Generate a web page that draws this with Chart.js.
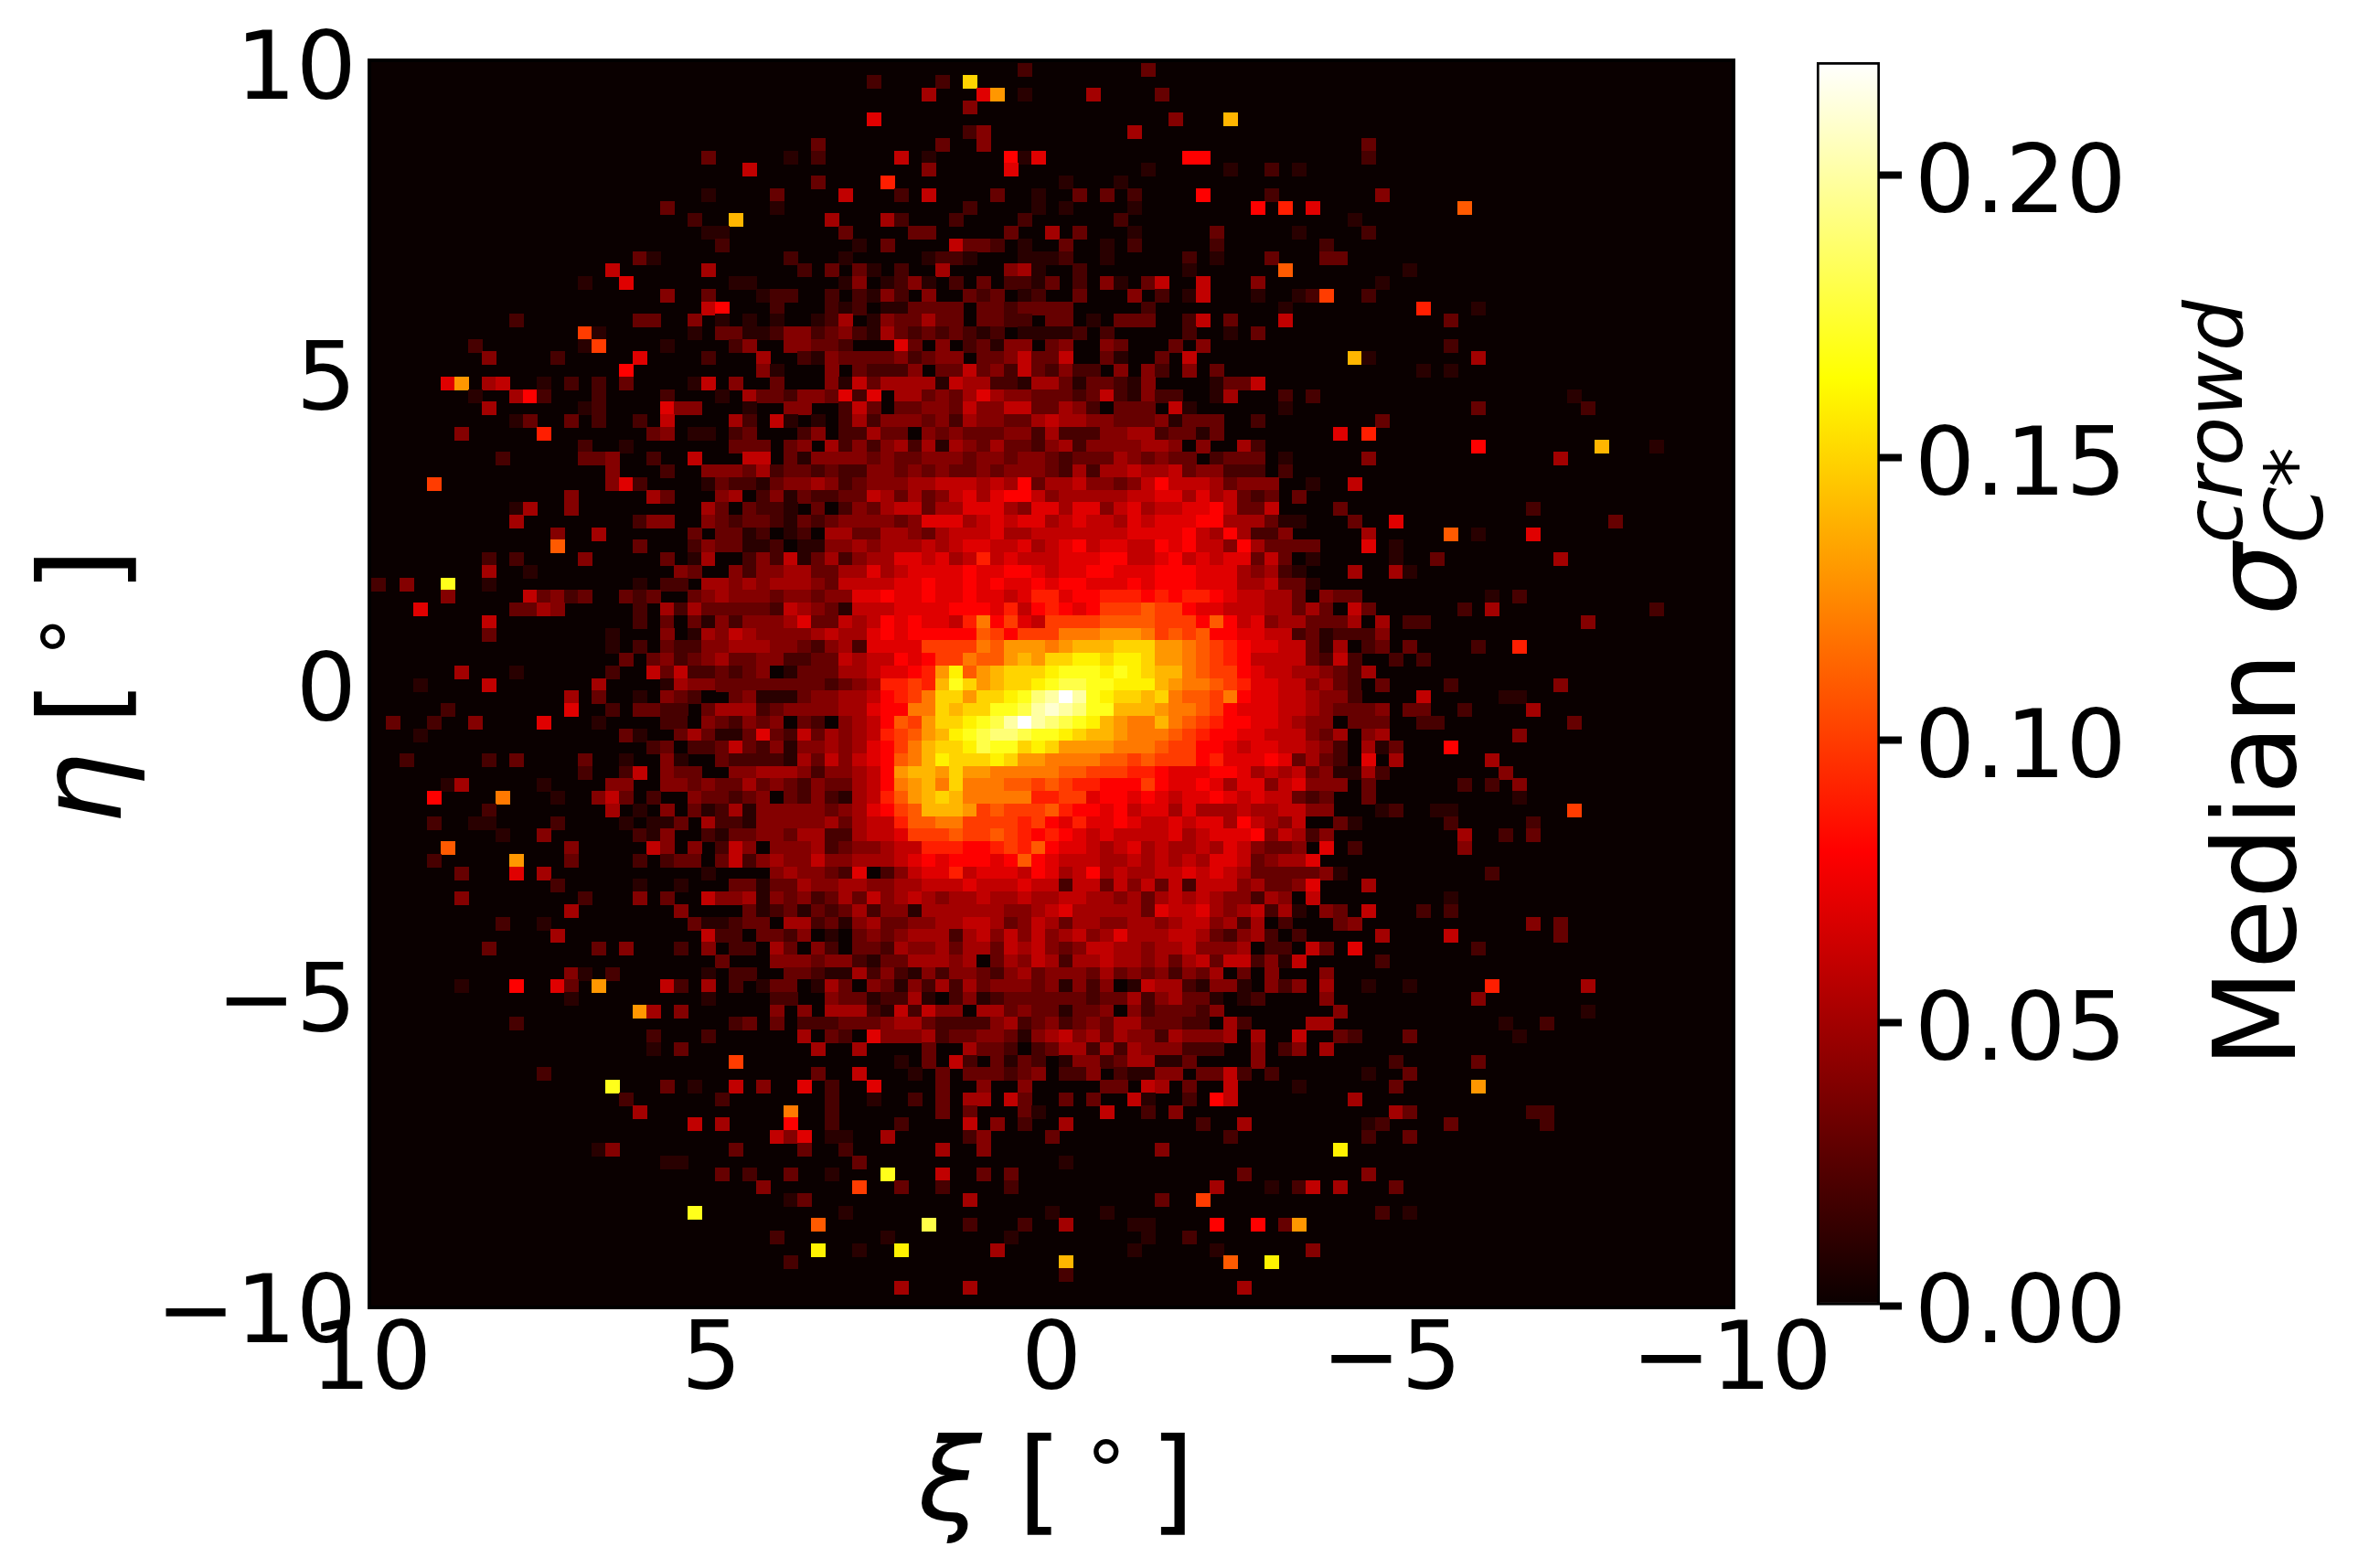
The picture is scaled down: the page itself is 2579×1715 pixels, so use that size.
<!DOCTYPE html>
<html>
<head>
<meta charset="utf-8">
<script src="https://cdn.jsdelivr.net/npm/chart.js@4"></script>
<style>
  html, body { margin: 0; padding: 0; background: #fff; }
  #page { position: relative; width: 2579px; height: 1715px; overflow: hidden; font-family: "DejaVu Sans", sans-serif; color: #000; }
  canvas { position: absolute; left: 0; top: 0; }
  .axis-title { position: absolute; font-size: 125px; line-height: 1; white-space: nowrap; }
  .rot { transform-origin: 0 0; transform: rotate(-90deg); }
  .axis-title i { font-style: italic; }
  .sym { display: inline-block; width: 109px; }
  .deg { display: inline-block; width: 96px; text-align: center; font-size: 88px; position: relative; top: -23px; }
  .stack { display: inline-block; position: relative; width: 300px; height: 125px; }
  .stack span { position: absolute; left: 0; font-size: 88px; }
  .sup { top: -7px; }
  .sub { top: 81px; }
  .sub b { font-weight: normal; }
</style>
</head>
<body>
<div id="page">
  <canvas id="heat" width="2579" height="1715"></canvas>
  <canvas id="bar" width="2579" height="1715"></canvas>
  <div class="axis-title" id="xTitle" style="left:1004px;top:1556px"><i class="sym">ξ</i>[<span class="deg">°</span>]</div>
  <div class="axis-title rot" id="yTitle" style="left:26px;top:902px"><i class="sym">η</i>[<span class="deg">°</span>]</div>
  <div class="axis-title rot" id="cbTitle" style="left:2385px;top:1168px">Median <i>σ</i><span class="stack"><span class="sup"><i>crowd</i></span><span class="sub"><i>C</i><b>*</b></span></span></div>
</div>
<script>
// values are read off the picture, one entry per row of the 2d histogram
// a token is "firstColumn:levels", one level character per column, running right
const heatRows = [
  "47:2 56:3",
  "36:2 41:2 43:f",
  "40:5 44:7 45:d 47:1 52:5 57:3",
  "43:4",
  "36:7 58:4 62:e",
  "43:2 44:4 55:5",
  "32:3 41:3 44:4 72:3",
  "24:3 30:1 32:2 38:6 40:1 46:8 47:1 48:7 59:88 72:2",
  "27:6 40:4 46:7 56:1 62:1 65:2 67:1",
  "32:3 37:9 50:1 54:1",
  "24:1 29:3 34:6 38:2 40:6 45:3 48:1 51:3 53:3 55:2 60:8 65:2 73:4",
  "21:3 29:1 43:2 48:1 50:1 55:1 64:8 66:9 68:7 79:b",
  "23:2 26:e 33:5 37:5 38:2 42:2 47:2 54:2 71:1",
  "24:11 34:3 39:33 46:3 49:5 51:3 55:1 61:3 67:1 72:2",
  "25:2 35:1 37:3 42:6 43:332 47:1 50:3 53:1 55:2 61:2 69:2",
  "19:31 30:2 34:1 40:1221 47:11 49:12 53:1 59:2 61:1 65:3 69:33",
  "17:6 24:5 31:2 33:3 35:31 38:2 41:5 46:451 51:2 59:1 66:b 75:1",
  "15:1 18:7 26:11 34:14 37:124 40:1 42:2 44:3 46:2213 51:2 53:41 56:36 60:6 64:4 73:1",
  "21:4 24:3 28:1 29:22 33:2 35:21 37:42 40:4 43:323 47:12 51:3 55:4 57:2 59:1 60:6 64:1 67:12 69:a 72:2",
  "24:68 29:2 33:212 37:11 39:3333 44:332333 50:3 56:2 66:1 76:9 80:1",
  "10:2 19:33 23:4 25:1 27:1 29:1 32:125 36:1 37:4335 41:33 44:3322 49:33 52:1 54:333 59:2 60:6 62:3 66:6 78:3",
  "15:a1 23:1 25:33 27:112 30:44 32:2342 36:1 37:53 39:2323 43:212 47:11 49:11 51:2 53:2 59:2 62:1 64:3",
  "7:2 15:1 16:a 21:1 26:2 27:4 30:44332 38:73 41:4 43:231 46:44 49:34 53:43 58:3 60:4 78:2",
  "8:4 13:2 19:7 24:2 28:5 31:21 33:4333 37:34 39:2 40:344 44:334 47:633 50:6 53:31 57:3 59:6 71:e 72:1 80:5",
  "18:8 28:41 33:4 35:32224 41:336 44:34 46:263 49:24 51:22 54:4 56:42 59:4 61:3 76:1 78:1",
  "5:7d 8:56 12:1 14:2 16:2 18:3 23:16 26:4 29:3 33:416 36:3 37:5555 41:11 42:655 45:221 48:55 50:3 51:1 52:33 54:21 56:4 61:1336",
  "7:1 10:582 16:2 21:2 25:1 27:5332 31:44 33:3 34:727 38:553 41:43 43:57 45:5 46:44 48:33 50:32 52:3 53:62 55:1 56:422 61:1 62:5 66:2 68:2 87:1",
  "8:5 15:12 21:744 27:1 30:44 34:263 38:3344 42:36 44:44 46:663 49:35420 54:333 58:61 66:1 80:3 88:2",
  "10:13 14:3 16:2 19:2 21:6 26:52 29:61 32:1 34:25244 39:43 41:42544 46:3356 50:55 52:44 54:333 57:41 59:333 64:2 73:3",
  "6:4 12:9 20:34 23:11 26:23 31:24 34:22533 39:043 42:43334 47:425 50:2224 54:4 55:55233 60:1 61:3 70:7 72:9",
  "15:2 18:1 26:333 30:34 33:5242 37:45251 42:5 43:4353 47:324 50:5244 54:44 56:5540 60:4 63:52 80:8 89:e 93:1",
  "9:2 15:334 20:2 23:6 27:66 30:31 32:4444 36:343 39:344 42:43 44:44 46:344 49:3 50:233 53:3 54:5434 58:33 61:2333 66:1 72:4 86:5",
  "17:4 21:2 24:4443 28:52332 33:322 36:443 39:4343 43:3434 47:44 49:32 51:525 54:565 57:56 59:34 61:4222 66:2",
  "4:a 17:472 24:13221 29:34454 34:2344 38:4 39:55666 44:565 47:835 50:56443 55:46866 60:6 61:534 64:44 68:1 71:6",
  "14:4 20:53 25:450 28:24132 33:2 34:33 36:65 38:3534 42:6 43:75 45:78 47:864 50:55555 55:66 57:7757 61:5 62:63 64:23 67:3",
  "10:15 14:4 24:53032 29:21 32:30 34:24 36:356 39:6 40:3 41:5577 45:75 47:477 50:577 53:46756 58:67 60:78 62:6 63:3 64:36 70:3 84:2",
  "10:5 19:244 24:43233 29:21323 34:4444 38:34 40:777 43:567 46:6775 50:67665 55:7 56:67778 61:85 63:55 65:311 71:3 74:7 90:3",
  "13:4 16:5 23:3 25:33120 30:12055 35:3355 39:4356 43:66 45:7556 49:6 50:666667 56:777 59:86 61:58 63:5 64:224 72:5 78:b 80:1 84:7",
  "13:b 19:3 23:2 24:433 27:11201 32:1 33:445 36:45556 41:56 43:776 46:6 47:756 50:786 53:77668 58:78 60:664 63:85 65:3333 72:7 74:1",
  "8:2 10:2 15:4 21:3 23:1 24:500 27:24 29:26135 34:2 35:45577 40:67 42:569 45:67 47:666 50:77788 55:667 58:86 60:76 62:77 64:363 67:01 74:1 77:3 86:5",
  "8:5 11:1 22:43 26:42 28:44553 33:3 34:557 37:567 40:777 43:8 44:77 46:887 49:6 50:778 53:8 54:777 57:8 58:88 60:777 63:545 66:21 71:5 74:51",
  "0:2 2:4 5:h 8:1 19:1 21:22 24:55454 29:5554 33:3 34:6666 38:77 40:8778 44:7 45:877 48:87 50:88777 55:87888 60:777 63:556 66:331",
  "5:4 11:63423 18:323 23:34544 28:43443 33:44 35:7787 39:78 41:77 43:87767 48:99 50:788 53:99989 58:89987 63:66553043 71:3 81:1 83:2",
  "3:7 10:3354 19:2 21:525333332 30:65431 35:66677 40:77888 45:79689 50:878 53:aaabaa8 60:77666 65:55353 70:063 79:2 81:5 93:2",
  "8:6 19:2 21:30314 26:24445 31:7 32:33 34:656 37:87 39:8 40:77 42:69 44:c8a 47:76a 50:aaa 53:bbbb 57:aaa 60:8b8 63:67 65:455 68:333 71:505 75:22 88:4",
  "8:3 17:1 21:4 23:15465 28:444 31:4 32:565 35:5 36:7 37:87 39:8888 43:8 44:ba8 47:aaa 50:ccc 53:ddd 56:cab 59:ab8 62:8 63:7766 67:2 68:3122 72:24",
  "17:1 19:2 21:3224455544 31:324527777 40:aaaacbddd 49:cdeeefff 57:ddcba98 64:776631 70:5023 75:3 80:2 83:9",
  "18:3 20:34234533 28:442233656 37:687 40:8aacbbdedf 50:fggfggfddc 60:ba98 64:66663262 74:2 76:2",
  "6:5 10:1 17:2 20:63622323 28:40133 33:3 34:5567 38:7 39:8 40:9dgbdefffe 49:g 50:hhhghgfeec 60:baa8 64:766554325",
  "3:1 8:6 16:5 21:15443333 29:3333 33:2345 37:99a9 41:ehfdeffgh 50:iihhggg 57:edccba9 64:7766453203 78:2 86:4",
  "14:5 16:3 19:1 21:4320 26:34111 31:34455 36:6 37:89ac 41:ffdffghjk 50:mkhgffef 58:cbbac8 64:77665442 76:6 82:11",
  "5:2 14:7 17:2 19:3322 24:355 27:52344 32:44 34:55 36:7 37:88cc 41:feffhhikl 50:kjhheeed 58:ccba87 64:7766543334 75:33 79:2 84:5",
  "1:3 4:2 7:4 12:7 16:1 21:220 24:4324340320 34:456 37:8bad 41:ffghikmkj 50:ihgedcce 58:cba988 64:7765440333 76:22 87:3",
  "3:1 18:31 22:3531137326 32:35456 37:9abd 41:eghijjihh 50:gfeedccc 58:ba9887 64:7666435045 83:4",
  "20:2302236324 30:1445457 37:8ace 41:ffgihhfgf 50:ddddcccb 58:aa8876 64:77665420513 78:8",
  "2:2 8:2 10:3 15:3 18:1 21:41 25:322221536467 37:8bce 41:gfffgfddc 50:cccbbaba 58:aa8977 64:7873532 72:7 74:5 81:5",
  "15:2 18:2 19:6 21:433 26:44555 31:42445 36:6 37:8dee 41:dfddccccc 50:bbaaa998 58:777887 64:5656341152 82:4",
  "5:15 12:1 17:44 21:44343 26:35343 31:24335 36:6 37:8cde 41:cfcccbbab 50:a99888a8 58:778757 64:7467444 72:3 79:2 81:2 83:4",
  "4:8 9:c 13:1 16:463 20:2 23:433 26:23 28:40324 33:2 34:156 37:9bde 41:feccccc99 50:aa788787 58:677876 64:766323 72:3 83:1",
  "8:2 17:5 19:1 21:4 23:3 24:12514 29:4444 33:345 36:7 37:8abe 41:eedabaaab 50:98878677 58:575556 64:556644 73:12 77:11 87:a",
  "4:2 7:11 13:2 18:1 20:113 24:52214 29:44445 34:35 36:6 37:69bb 41:ccaaaa9a8 50:79778766 58:767758 64:65460031 78:2 84:2",
  "9:1 12:4 19:214 24:21334 29:43552 34:2 35:5 36:6 37:67aa 41:abaaba989 50:87676666 58:756777 64:846524 79:5 82:2 84:3",
  "5:b 14:4 20:64 23:4 25:2 26:64 28:0 29:444 32:523 35:44 37:5669 41:99889a9b8 50:77656756 58:556576 64:4334 69:7 71:2 79:4",
  "4:2 10:d 14:3 19:2 21:233 24:0 25:36245 30:446 33:44 35:55 37:5678 41:788878b87 50:66655656 58:565776 64:34557",
  "6:3 10:7 12:5 24:1 29:45443 34:2 35:7 36:0 37:2467 41:796777687 50:56856556 58:676765 64:3333341 81:2",
  "13:2 19:1 22:1 26:331 29:33544 34:554 37:4556 41:667666766 50:26636463 58:626664 64:5334 68:7 72:5",
  "6:4 15:2 19:4 21:3 24:64451 29:4 30:34235 35:3 36:6 37:45654 42:55655 47:655 50:66554 55:53565 60:6544 64:254 67:0 68:6 78:1",
  "14:5 22:4 27:31231 32:3235 36:2 37:44155 42:5555 46:44 48:56 50:75555 55:53766 60:75456 65:251 69:43 72:6 76:2 78:2",
  "9:2 12:1 23:3 24:11233 29:05523 34:1453 38:3 39:445566 45:53465 50:35544 55:55456 60:64525 65:02 70:34 84:4 86:3",
  "13:5 24:622 27:033 30:24 32:010 35:343 38:45552 43:5646464 50:56457 55:55566 60:53245 65:202 73:5 78:6 86:3",
  "8:3 16:3 18:4 22:2 24:4 26:22 28:0 29:530 32:420 35:332 38:54453 43:553 46:6564 50:34665 55:54556 60:44450 65:220 68:63 71:7 80:2",
  "25:3 29:44434 34:421 37:33555 42:45035 47:465 50:25565 55:54535 60:63662 65:416 73:2",
  "14:41 17:2 24:1 26:22 30:33211 35:52421 40:42443 45:24534 50:44353 55:43424 60:35030 65:4 69:4",
  "6:1 10:8 13:73 16:d 21:62 24:5 26:2 28:1 29:330 32:15304 37:31425 42:25344 47:434 50:14240 55:16552 60:1441 65:424 69:5 72:1 75:1 81:9 88:5",
  "14:1 24:1 29:22 33:433 36:1 37:22510 42:24123 47:333 50:33233 55:52453 60:31012 69:4 80:4",
  "19:d5 22:4 29:4 31:4 33:555 36:2 37:16264 42:40553 47:433 50:13340 55:42333 60:24 70:4 88:1",
  "10:2 26:23 29:3 31:222 34:333 37:45532 42:22245 47:234 50:23435 55:53332 60:2052 68:55 82:1 85:2",
  "20:2 24:2 31:503 34:207 37:44452 42:33443 47:145 50:64535 55:44254 60:44505 67:6 70:32 75:3 83:1",
  "20:1 22:3 32:5 35:5 40:3 43:5332023 50:55252 55:54442 60:22 64:4 66:24 69:5",
  "26:a 38:1 40:3 42:62 45:3132 50:14423 55:55113 64:4 74:2 80:3",
  "12:2 32:3 35:6 39:1 41:3 43:333 46:23 48:4 50:22 52:4 54:211 57:44 60:33 62:62 65:2 72:1 75:3",
  "17:h 21:3 23:1 26:6 28:4 31:7 33:2 36:7 41:3 44:4 47:4 53:33 56:65 59:3 62:6 67:1 74:3 80:d",
  "18:2 25:2 33:2 36:1 39:2 41:3 43:55 46:63 50:3 52:3 55:61 59:2 61:86 71:5",
  "19:5 30:c 33:2 41:3 43:3 47:31 53:6 56:2 58:4 74:53 84:22",
  "23:6 25:5 30:8 33:2 38:2 43:6 45:4 47:2 50:5 60:2 63:5 72:12 78:3 85:2",
  "29:647 33:11 37:5 43:24 49:3 62:2 72:2 75:3",
  "16:14 26:3 31:3 34:2 41:5 44:4 57:4 70:g",
  "21:11 35:3 50:1",
  "25:3 27:2 30:3 33:1 37:h 41:6 44:3 46:3 63:3 72:4",
  "28:4 35:a 38:3 41:2 46:2 61:5 65:1 67:26 70:5 74:3",
  "30:13 43:5 57:3 60:a",
  "23:h 34:1 49:1 53:1 73:2 75:1",
  "32:b 40:i 43:2 47:2 50:5 55:11 61:8 64:8 66:3 67:d",
  "29:2 37:1 46:1 56:1 59:2",
  "32:g 35:1 38:g 45:5 55:1 61:1 68:4",
  "30:2 50:e 62:b 65:g",
  "50:2",
  "38:5 43:5 63:5",
  "",
  ""
];
const levelCodes = '0123456789abcdefghijklm';
const levelStep = 0.01;         // each level code is 0.01 of median sigma
const binFirstX = 9.886, binFirstY = 9.882, binSize = 0.202;
const xTicks = [10, 5, 0, -5, -10];
const yTicks = [-10, -5, 0, 5, 10];
const barTicks = [0, 0.05, 0.1, 0.15, 0.2];
const barMax = 0.22;
// matplotlib 'hot'
const hotStops = [[0, [10, 0, 0]], [0.365, [255, 0, 0]], [0.746, [255, 255, 0]], [1, [255, 255, 255]]];

function hotColor(t) {
  t = Math.min(1, Math.max(0, t));
  for (let i = 1; i < hotStops.length; i++) {
    const [t0, c0] = hotStops[i - 1], [t1, c1] = hotStops[i];
    if (t <= t1) {
      const f = (t - t0) / (t1 - t0);
      return 'rgb(' + c0.map((c, k) => Math.round(c + (c1[k] - c) * f)).join(',') + ')';
    }
  }
}

const heatPoints = [];
heatRows.forEach((row, r) => {
  row.split(' ').filter(Boolean).forEach(tok => {
    const [first, run] = tok.split(':');
    [...run].forEach((ch, k) => {
      heatPoints.push({
        x: binFirstX - binSize * (Number(first) + k),
        y: binFirstY - binSize * r,
        v: levelCodes.indexOf(ch) * levelStep
      });
    });
  });
});

// one small canvas per level, used as the point style so cells are not square
const cellImages = {};
function cellImage(v) {
  if (!cellImages[v]) {
    const c = document.createElement('canvas');
    c.width = 16; c.height = 15;
    const g = c.getContext('2d');
    g.fillStyle = hotColor(v / barMax);
    g.fillRect(0, 0, 16, 15);
    cellImages[v] = c;
  }
  return cellImages[v];
}

const fontTicks = { family: '"DejaVu Sans"', size: 104 };
// an empty first line with a short line height nudges vertical-axis labels down
const fontTicksLow = { family: '"DejaVu Sans"', size: 104, lineHeight: '26px' };
const minusLabel = v => String(v).replace('-', '\u2212');
// labels must not push the plot area around
const fixW = w => s => { s.width = w; s.paddingTop = 0; s.paddingBottom = 0; };
const fixH = h => s => { s.height = h; s.paddingLeft = 0; s.paddingRight = 0; };
const unitTicks = s => { s.ticks = Array.from({ length: 21 }, (_, i) => ({ value: i - 10 })); };
const frame = { display: true, color: '#000', width: 8 };
const innerTicks = { drawOnChartArea: false, drawTicks: true, tickLength: -22, tickWidth: 7, tickColor: '#000' };

const plotBackground = {
  id: 'plotBackground',
  beforeDatasetsDraw(chart) {
    const a = chart.chartArea;
    chart.ctx.fillStyle = hotColor(0);
    chart.ctx.fillRect(a.left, a.top, a.width, a.height);
  }
};

Chart.defaults.animation = false;
Chart.defaults.responsive = false;
Chart.defaults.color = '#000';

new Chart(document.getElementById('heat'), {
  type: 'scatter',
  data: {
    datasets: [{
      data: heatPoints,
      pointStyle: ctx => cellImage(ctx.raw.v),
      pointRadius: 8,
      pointHoverRadius: 8,
      pointBorderWidth: 0
    }]
  },
  plugins: [plotBackground],
  options: {
    events: [],
    layout: { padding: { left: 0, top: 68, right: 685, bottom: 0 } },
    plugins: { legend: { display: false }, title: { display: false }, tooltip: { enabled: false } },
    scales: {
      x: {
        type: 'linear', min: -10, max: 10, reverse: true, z: 1,
        border: frame, grid: innerTicks,
        afterBuildTicks: unitTicks,
        afterFit: fixH(287),
        ticks: {
          font: fontTicks, padding: 24, maxRotation: 0, minRotation: 0, autoSkip: false,
          callback: v => xTicks.includes(v) ? minusLabel(v) : ''
        }
      },
      y: {
        type: 'linear', min: -10, max: 10, z: 1,
        border: frame, grid: innerTicks,
        afterBuildTicks: unitTicks,
        afterFit: fixW(406),
        ticks: {
          font: fontTicksLow, padding: 38, autoSkip: false,
          callback: v => yTicks.includes(v) ? ['', minusLabel(v)] : ''
        }
      },
      xTop: {
        type: 'linear', position: 'top', min: -10, max: 10, z: 1,
        border: frame, grid: innerTicks, afterFit: fixH(0),
        afterBuildTicks: unitTicks,
        ticks: { display: false }
      },
      yRight: {
        type: 'linear', position: 'right', min: -10, max: 10, z: 1,
        border: frame, grid: innerTicks, afterFit: fixW(0),
        afterBuildTicks: unitTicks,
        ticks: { display: false }
      }
    }
  }
});

new Chart(document.getElementById('bar'), {
  type: 'bar',
  data: {
    labels: [''],
    datasets: [{
      data: [[0, barMax]],
      barPercentage: 1,
      categoryPercentage: 1,
      borderColor: '#000',
      borderWidth: 3,
      borderSkipped: false,
      backgroundColor: ctx => {
        const a = ctx.chart.chartArea;
        if (!a) return '#000';
        const g = ctx.chart.ctx.createLinearGradient(0, a.bottom, 0, a.top);
        hotStops.forEach(([t, c]) => g.addColorStop(t, 'rgb(' + c.join(',') + ')'));
        return g;
      }
    }]
  },
  options: {
    events: [],
    layout: { padding: { left: 1987, top: 68, right: 0, bottom: 287 } },
    plugins: { legend: { display: false }, tooltip: { enabled: false } },
    scales: {
      x: { display: false },
      y: {
        type: 'linear', position: 'right', min: 0, max: barMax,
        border: { display: false },
        grid: { drawOnChartArea: false, drawTicks: true, tickLength: 24, tickWidth: 8, tickColor: '#000' },
        afterBuildTicks: s => { s.ticks = barTicks.map(v => ({ value: v })); },
        afterFit: fixW(523),
        ticks: { font: fontTicksLow, padding: 14, callback: v => ['', v.toFixed(2)] }
      }
    }
  }
});
</script>
</body>
</html>
